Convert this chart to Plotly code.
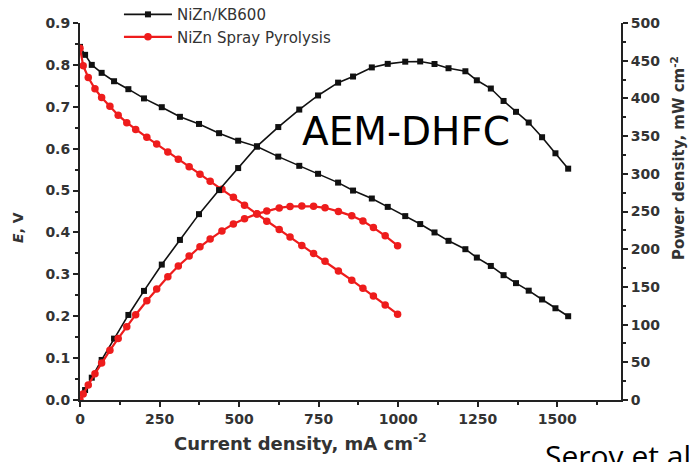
import plotly.graph_objects as go

# NiZn/KB600: current density (mA cm-2), cell voltage (V), power density (mW cm-2)
kb600_current = [0, 16, 37, 68, 107, 152, 201, 257, 314, 374, 437, 497, 556, 623, 689,
                 748, 811, 858, 917, 967, 1022, 1069, 1114, 1158, 1211, 1247, 1291,
                 1331, 1370, 1410, 1452, 1494, 1534]
kb600_voltage = [0.843, 0.824, 0.800, 0.781, 0.761, 0.742, 0.720, 0.699, 0.676, 0.659,
                 0.637, 0.619, 0.605, 0.581, 0.559, 0.540, 0.519, 0.500, 0.481, 0.461,
                 0.439, 0.420, 0.400, 0.380, 0.360, 0.340, 0.320, 0.298, 0.279, 0.261,
                 0.240, 0.219, 0.200]
kb600_power = [0, 13.2, 29.6, 53.1, 81.4, 112.8, 144.7, 179.6, 212.3, 246.5, 278.4,
               307.6, 336.4, 362.0, 385.2, 403.9, 420.9, 429.0, 441.1, 445.8, 448.7,
               449.0, 445.6, 440.0, 436.0, 424.0, 413.1, 396.6, 382.2, 368.0, 348.5,
               327.2, 306.8]

# NiZn Spray Pyrolysis
sp_current = [0, 10, 26, 47, 68, 94, 120, 147, 175, 210, 241, 276, 309, 343, 377, 409,
              446, 482, 517, 556, 587, 626, 660, 697, 734, 770, 812, 854, 889, 922,
              959, 998]
sp_voltage = [0.840, 0.798, 0.770, 0.743, 0.722, 0.701, 0.680, 0.662, 0.646, 0.627,
              0.611, 0.592, 0.575, 0.557, 0.539, 0.522, 0.503, 0.484, 0.465, 0.444,
              0.427, 0.407, 0.389, 0.369, 0.350, 0.331, 0.308, 0.286, 0.267, 0.248,
              0.227, 0.205]
sp_power = [0, 8.0, 20.0, 34.9, 49.1, 65.9, 81.6, 97.3, 113.1, 131.7, 147.3, 163.4,
            177.7, 191.1, 203.2, 213.5, 224.3, 233.3, 240.4, 246.9, 250.6, 254.8,
            256.7, 257.2, 256.9, 254.9, 250.1, 244.2, 237.4, 228.7, 217.7, 204.6]

x_ticks = [0, 250, 500, 750, 1000, 1250, 1500]
e_ticks = [0.0, 0.1, 0.2, 0.3, 0.4, 0.5, 0.6, 0.7, 0.8, 0.9]
p_ticks = [0, 50, 100, 150, 200, 250, 300, 350, 400, 450, 500]

BLACK = "#111111"
RED = "#ee1c1c"
TEXT = "#333333"
FONT = "DejaVu Sans, sans-serif"

fig = go.Figure()

fig.add_trace(go.Scatter(
    x=kb600_current, y=kb600_voltage, mode="lines+markers", name="NiZn/KB600",
    line=dict(color=BLACK, width=1.6),
    marker=dict(symbol="square", size=6, color=BLACK),
))
fig.add_trace(go.Scatter(
    x=sp_current, y=sp_voltage, mode="lines+markers", name="NiZn Spray Pyrolysis",
    line=dict(color=RED, width=2.2),
    marker=dict(symbol="circle", size=7.5, color=RED),
))
fig.add_trace(go.Scatter(
    x=kb600_current, y=kb600_power, mode="lines+markers", yaxis="y2", showlegend=False,
    line=dict(color=BLACK, width=1.6),
    marker=dict(symbol="square", size=6, color=BLACK),
))
fig.add_trace(go.Scatter(
    x=sp_current, y=sp_power, mode="lines+markers", yaxis="y2", showlegend=False,
    line=dict(color=RED, width=2.2),
    marker=dict(symbol="circle", size=7.5, color=RED),
))

axis_common = dict(
    showline=True, linecolor="#222222", linewidth=2, mirror=False,
    ticks="outside", ticklen=5, tickwidth=1.5, tickcolor="#222222",
    showgrid=False, zeroline=False,
    tickfont=dict(family=FONT, size=14, color=TEXT, weight="bold"),
)
minor_common = dict(ticks="outside", ticklen=3, tickwidth=1.5, tickcolor="#222222")

fig.update_layout(
    width=689, height=462,
    margin=dict(l=80, r=68, t=23, b=62, autoexpand=False),
    paper_bgcolor="white", plot_bgcolor="white",
    font=dict(family=FONT, color=TEXT),
    xaxis=dict(
        range=[0, 1700], tickvals=x_ticks,
        minor=dict(dtick=125, **minor_common),
        **axis_common,
    ),
    yaxis=dict(
        range=[0, 0.9], tickvals=e_ticks, tickformat=".1f",
        minor=dict(dtick=0.05, **minor_common),
        **axis_common,
    ),
    yaxis2=dict(
        range=[0, 500], tickvals=p_ticks, overlaying="y", side="right",
        minor=dict(dtick=25, **minor_common),
        **axis_common,
    ),
    legend=dict(
        x=0.072, y=1.066, xanchor="left", yanchor="top",
        bgcolor="rgba(0,0,0,0)", font=dict(family=FONT, size=15, color=TEXT),
        itemwidth=48, tracegroupgap=0,
    ),
    showlegend=True,
)

# axis titles
fig.add_annotation(
    text="<i>E</i>, V", textangle=-90, xref="paper", yref="paper",
    x=(18 - 80) / 541, y=(400 - 228) / 377, xanchor="center", yanchor="middle",
    showarrow=False, font=dict(family=FONT, size=14, color=TEXT, weight="bold"),
)
fig.add_annotation(
    text="Power density, mW cm<sup>-2</sup>", textangle=-90, xref="paper", yref="paper",
    x=(678 - 80) / 541, y=(400 - 158) / 377, xanchor="center", yanchor="middle",
    showarrow=False, font=dict(family=FONT, size=15, color=TEXT, weight="bold"),
)
fig.add_annotation(
    text="Current density, mA cm<sup>-2</sup>", xref="paper", yref="paper",
    x=(300 - 80) / 541, y=(400 - 442) / 377, xanchor="center", yanchor="middle",
    showarrow=False, font=dict(family=FONT, size=18, color=TEXT, weight="bold"),
)

# cell type label and citation
fig.add_annotation(
    text="AEM-DHFC", xref="paper", yref="paper",
    x=(300 - 80) / 541, y=(400 - 131) / 377, xanchor="left", yanchor="middle",
    showarrow=False, font=dict(family=FONT, size=39, color="#000000"),
)
fig.add_annotation(
    text="Serov et al.", xref="paper", yref="paper",
    x=(543 - 80) / 541, y=(400 - 455) / 377, xanchor="left", yanchor="middle",
    showarrow=False, font=dict(family="Open Sans, sans-serif", size=30, color="#000000"),
)

fig.write_html("out.html")
